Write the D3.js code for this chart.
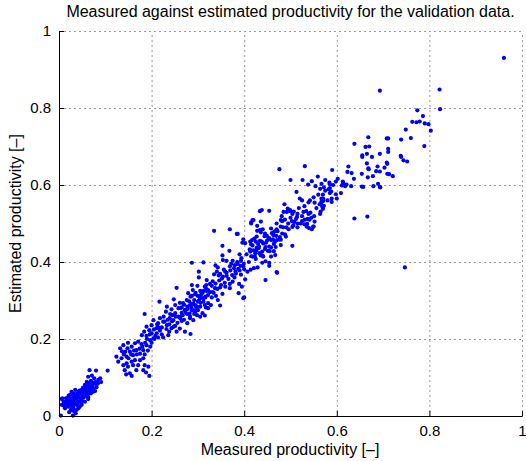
<!DOCTYPE html>
<html><head><meta charset="utf-8">
<script src="https://cdn.jsdelivr.net/npm/d3@7/dist/d3.min.js"></script>
<style>body{margin:0;background:#fff;}svg{display:block;}</style>
</head><body>
<svg id="chart" width="526" height="461"></svg>
<script>
// ---- data: [measured, estimated] pairs ----
const lowCluster = [
[0.004,0.001],[0.066,0.119],[0.080,0.118],[0.105,0.118],[0.063,0.102],[0.071,0.105],[0.076,0.098],[0.085,0.094],
[0.079,0.089],[0.091,0.088],[0.089,0.098],[0.069,0.091],[0.060,0.089],[0.056,0.081],[0.063,0.082],[0.072,0.079],
[0.081,0.081],[0.075,0.072],[0.067,0.072],[0.060,0.072],[0.052,0.074],[0.049,0.068],[0.063,0.063],[0.055,0.061],
[0.048,0.059],[0.042,0.063],[0.038,0.056],[0.035,0.068],[0.031,0.059],[0.027,0.063],[0.024,0.055],[0.031,0.050],
[0.020,0.048],[0.017,0.046],[0.026,0.042],[0.036,0.046],[0.043,0.048],[0.052,0.050],[0.060,0.055],[0.069,0.059],
[0.074,0.063],[0.045,0.037],[0.035,0.037],[0.024,0.033],[0.013,0.037],[0.019,0.030],[0.009,0.029],[0.031,0.029],
[0.040,0.027],[0.049,0.029],[0.056,0.037],[0.063,0.044],[0.042,0.020],[0.031,0.022],[0.020,0.024],[0.026,0.016],
[0.035,0.013],[0.013,0.020],[0.007,0.046],[0.006,0.029],[0.022,0.010],[0.036,0.007],[0.030,0.001],[0.027,0.017],
[0.032,0.013],[0.038,0.016],[0.006,0.044],
[0.030,0.040],[0.034,0.044],[0.038,0.041],[0.042,0.052],[0.046,0.045],[0.050,0.055],[0.053,0.048],[0.057,0.060],
[0.061,0.066],[0.064,0.058],[0.067,0.068],[0.070,0.075],[0.073,0.070],[0.066,0.077],[0.058,0.070],[0.054,0.065],
[0.047,0.060],[0.044,0.066],[0.039,0.058],[0.035,0.052],[0.028,0.035],[0.025,0.045],[0.022,0.038],[0.018,0.040],
[0.016,0.032],[0.033,0.033],[0.041,0.036],[0.048,0.041],[0.052,0.038],[0.059,0.051],[0.063,0.049],[0.068,0.062],
[0.072,0.066],[0.077,0.085],[0.071,0.088],[0.065,0.085],[0.060,0.080],[0.056,0.075],[0.051,0.070],[0.081,0.075],
[0.084,0.085],[0.078,0.065],[0.045,0.025],[0.037,0.030],[0.027,0.026],[0.012,0.025],[0.010,0.037],[0.015,0.046],
[0.021,0.053]
];
const lowerBand = [
[0.132,0.176],[0.139,0.184],[0.149,0.190],[0.157,0.180],[0.164,0.189],[0.171,0.193],[0.143,0.167],[0.153,0.167],
[0.135,0.150],[0.146,0.154],[0.160,0.158],[0.167,0.171],[0.175,0.162],[0.182,0.171],[0.146,0.137],[0.157,0.141],
[0.164,0.145],[0.139,0.132],[0.149,0.128],[0.160,0.132],[0.175,0.145],[0.182,0.150],[0.171,0.132],[0.185,0.132],
[0.142,0.119],[0.153,0.111],[0.167,0.119],[0.182,0.119],[0.193,0.128],[0.145,0.108],[0.157,0.104],[0.188,0.113],
[0.195,0.104],[0.178,0.187],[0.189,0.184],[0.197,0.180],[0.124,0.154],[0.128,0.141],
[0.217,0.297],[0.185,0.265],[0.254,0.333],[0.287,0.340],[0.279,0.319],[0.287,0.312],[0.295,0.320],[0.300,0.312],
[0.310,0.320],[0.319,0.325],[0.316,0.310],[0.305,0.306],[0.292,0.301],[0.281,0.298],[0.248,0.303],[0.261,0.294],
[0.270,0.289],[0.251,0.288],[0.258,0.280],[0.243,0.277],[0.233,0.284],[0.231,0.271],[0.240,0.265],[0.251,0.267],
[0.265,0.268],[0.272,0.275],[0.277,0.284],[0.287,0.291],[0.296,0.284],[0.290,0.275],[0.300,0.275],[0.306,0.294],
[0.315,0.288],[0.322,0.280],[0.310,0.267],[0.298,0.262],[0.283,0.258],[0.290,0.249],[0.277,0.241],[0.265,0.247],
[0.258,0.258],[0.247,0.249],[0.239,0.254],[0.284,0.213],[0.261,0.227],[0.272,0.219],[0.218,0.254],[0.225,0.245],
[0.214,0.241],[0.204,0.249],[0.200,0.236],[0.222,0.230],[0.211,0.228],[0.233,0.236],[0.243,0.228],[0.251,0.234],
[0.254,0.219],[0.189,0.232],[0.195,0.223],[0.184,0.219],[0.179,0.210],[0.189,0.208],[0.200,0.215],[0.211,0.215],
[0.204,0.202],[0.197,0.197],[0.214,0.204],[0.225,0.204],[0.236,0.210],[0.238,0.219],
[0.205,0.225],[0.212,0.238],[0.218,0.222],[0.222,0.212],[0.228,0.245],[0.232,0.226],[0.238,0.238],[0.244,0.246],
[0.248,0.232],[0.252,0.258],[0.256,0.242],[0.262,0.254],[0.266,0.262],[0.270,0.250],[0.274,0.268],[0.278,0.278],
[0.282,0.266],[0.286,0.282],[0.290,0.292],[0.294,0.270],[0.298,0.284],[0.262,0.280],[0.245,0.262],[0.235,0.250],
[0.226,0.258],[0.215,0.230],[0.208,0.208],[0.196,0.212],[0.190,0.200],[0.186,0.190],[0.180,0.180],[0.174,0.175],
[0.168,0.160],[0.162,0.170],[0.156,0.160],[0.150,0.150],[0.148,0.176],[0.140,0.160],[0.136,0.168],[0.192,0.170],
[0.185,0.160],[0.200,0.190],[0.206,0.200]
];
const middleBand = [
[0.335,0.481],[0.369,0.485],[0.415,0.503],[0.418,0.509],[0.428,0.494],[0.386,0.473],[0.398,0.459],[0.396,0.450],
[0.353,0.442],[0.368,0.429],[0.402,0.449],[0.413,0.453],[0.418,0.443],[0.412,0.433],[0.428,0.481],[0.436,0.477],
[0.422,0.461],[0.430,0.447],[0.438,0.453],[0.445,0.474],[0.449,0.468],[0.452,0.459],[0.463,0.472],[0.469,0.468],
[0.462,0.459],[0.471,0.457],[0.426,0.430],[0.431,0.436],[0.433,0.423],[0.445,0.434],[0.451,0.429],[0.454,0.440],
[0.468,0.439],[0.413,0.427],[0.423,0.414],[0.436,0.417],[0.446,0.402],[0.454,0.398],[0.458,0.414],[0.439,0.398],
[0.454,0.390],[0.470,0.374],[0.446,0.353],[0.287,0.398],[0.312,0.399],[0.302,0.375],[0.302,0.360],[0.353,0.417],
[0.362,0.403],[0.354,0.405],[0.375,0.403],[0.369,0.389],[0.380,0.392],[0.385,0.400],[0.393,0.403],[0.399,0.395],
[0.392,0.390],[0.387,0.382],[0.381,0.375],[0.338,0.391],[0.343,0.386],[0.341,0.375],[0.335,0.368],[0.348,0.369],
[0.359,0.375],[0.362,0.364],[0.352,0.357],[0.400,0.381],[0.407,0.375],[0.414,0.380],[0.421,0.384],[0.429,0.386],
[0.379,0.360],[0.375,0.349],[0.369,0.343],[0.389,0.343],[0.393,0.367],[0.402,0.355],[0.395,0.336],[0.348,0.334],
[0.337,0.332],[0.332,0.322],[0.359,0.336],[0.353,0.317],[0.319,0.353],[0.326,0.343],[0.315,0.336],[0.312,0.325],
[0.322,0.327],[0.330,0.308],[0.339,0.312],[0.343,0.301],[0.388,0.319],[0.398,0.306],[0.348,0.287],[0.369,0.332],
[0.299,0.338],[0.305,0.325],[0.294,0.316],[0.289,0.327],[0.284,0.310],[0.306,0.312],[0.316,0.308],[0.312,0.297],
[0.300,0.297],[0.294,0.288],[0.305,0.284],[0.317,0.282],[0.322,0.293],[0.328,0.288],[0.276,0.301],[0.268,0.293],
[0.283,0.288],[0.272,0.275],[0.265,0.282],[0.287,0.274],[0.277,0.265],[0.267,0.262],[0.292,0.265],[0.297,0.275],
[0.305,0.258],[0.283,0.254],[0.315,0.261],[0.384,0.473],[0.471,0.372],[0.400,0.308],
[0.302,0.300],[0.308,0.318],[0.312,0.306],[0.318,0.330],[0.322,0.314],[0.326,0.322],[0.330,0.338],[0.334,0.320],
[0.338,0.344],[0.342,0.330],[0.346,0.352],[0.350,0.340],[0.354,0.362],[0.358,0.346],[0.362,0.372],[0.366,0.356],
[0.370,0.378],[0.374,0.366],[0.378,0.384],[0.382,0.370],[0.386,0.395],[0.390,0.378],[0.394,0.410],[0.398,0.388],
[0.345,0.365],[0.332,0.350],[0.318,0.340],[0.372,0.395],[0.356,0.380],[0.390,0.420],[0.405,0.420],[0.410,0.400],
[0.415,0.415],[0.420,0.430],[0.425,0.408],[0.432,0.440],[0.440,0.416],[0.447,0.450],[0.455,0.428],[0.460,0.475],
[0.466,0.452],[0.472,0.480],[0.477,0.465],[0.484,0.490],[0.488,0.472],[0.495,0.500],[0.500,0.515],[0.506,0.495],
[0.512,0.512],[0.518,0.540],[0.522,0.500],[0.485,0.530],[0.470,0.500]
];
const upperBand = [
[0.531,0.649],[0.476,0.641],[0.500,0.613],[0.526,0.613],[0.559,0.622],[0.546,0.610],[0.538,0.601],[0.554,0.597],
[0.585,0.602],[0.585,0.592],[0.588,0.583],[0.513,0.582],[0.570,0.575],[0.550,0.568],[0.571,0.564],[0.567,0.557],
[0.563,0.550],[0.569,0.544],[0.570,0.538],[0.565,0.531],[0.564,0.525],[0.539,0.555],[0.552,0.554],[0.520,0.565],
[0.600,0.565],[0.487,0.550],[0.494,0.539],[0.499,0.535],[0.504,0.525],[0.507,0.531],[0.515,0.525],[0.514,0.517],
[0.525,0.519],[0.528,0.530],[0.534,0.532],[0.539,0.525],[0.543,0.528],[0.531,0.510],[0.537,0.512],[0.541,0.510],
[0.551,0.519],[0.552,0.505],[0.549,0.492],[0.434,0.532],[0.438,0.535],[0.454,0.533],[0.420,0.509],[0.436,0.505],
[0.481,0.519],[0.488,0.510],[0.479,0.509],[0.492,0.530],[0.499,0.532],[0.415,0.500],[0.482,0.506],[0.479,0.492],
[0.503,0.506],[0.508,0.504],[0.515,0.500],[0.515,0.490],[0.525,0.506],[0.530,0.498],[0.536,0.499],[0.504,0.491],
[0.496,0.485],[0.491,0.490],[0.535,0.492],[0.540,0.488],[0.546,0.485],[0.550,0.492],[0.440,0.485],[0.434,0.483],
[0.458,0.487],[0.470,0.485],[0.465,0.479],[0.463,0.470],[0.454,0.462],[0.444,0.467],[0.427,0.466],[0.482,0.474],
[0.490,0.466],[0.476,0.459],[0.417,0.457],[0.425,0.453],[0.415,0.446],[0.434,0.455],[0.441,0.448],[0.446,0.439],
[0.449,0.455],[0.458,0.457],[0.464,0.447],[0.458,0.438],[0.479,0.458],[0.479,0.444],[0.504,0.442],[0.427,0.437],
[0.424,0.423],[0.413,0.431],[0.418,0.414],[0.439,0.427],[0.441,0.414],[0.464,0.428],[0.467,0.418],
[0.530,0.545],[0.542,0.560],[0.556,0.540],[0.560,0.575],[0.575,0.585],[0.580,0.560],[0.592,0.600],[0.545,0.515],
[0.525,0.560]
];
const topBand = [
[0.774,0.794],[0.786,0.779],[0.763,0.764],[0.772,0.763],[0.779,0.765],[0.790,0.760],[0.798,0.758],[0.803,0.741],
[0.749,0.744],[0.708,0.721],[0.711,0.721],[0.739,0.718],[0.760,0.722],[0.711,0.694],[0.711,0.686],[0.789,0.701],
[0.693,0.681],[0.738,0.676],[0.739,0.673],[0.744,0.664],[0.752,0.661],[0.708,0.658],[0.709,0.655],[0.703,0.645],
[0.693,0.635],[0.709,0.629],[0.713,0.628],[0.721,0.623],[0.693,0.595],[0.668,0.724],[0.638,0.707],[0.662,0.699],
[0.670,0.700],[0.665,0.681],[0.676,0.673],[0.655,0.677],[0.655,0.673],[0.665,0.656],[0.625,0.648],[0.688,0.648],
[0.668,0.643],[0.669,0.641],[0.685,0.636],[0.590,0.639],[0.623,0.634],[0.632,0.631],[0.654,0.629],[0.598,0.609],
[0.584,0.606],[0.667,0.620],[0.678,0.623],[0.637,0.616],[0.567,0.603],[0.575,0.613],[0.602,0.616],[0.613,0.609],
[0.614,0.604],[0.611,0.599],[0.618,0.597],[0.621,0.601],[0.631,0.597],[0.654,0.596],[0.657,0.595],[0.679,0.597],
[0.689,0.603],[0.694,0.594],[0.564,0.590],[0.572,0.594],[0.582,0.589],[0.585,0.579],[0.598,0.576],[0.609,0.579],
[0.589,0.565],[0.567,0.565],[0.571,0.559],[0.566,0.552],[0.569,0.544],[0.572,0.546],[0.589,0.556],[0.666,0.518],
[0.638,0.513]
];
const outliers = [
[0.961,0.930],[0.822,0.848],[0.823,0.797],[0.747,0.386],[0.693,0.845]
];
const tickValues = [0, 0.2, 0.4, 0.6, 0.8, 1];
const tickLabels = ["0", "0.2", "0.4", "0.6", "0.8", "1"];
const titleText = "Measured against estimated productivity for the validation data.";
const xLabel = "Measured productivity [\u2013]";
const yLabel = "Estimated productivity [\u2013]";

// ---- drawing ----
const W = 526, H = 461;
const plot = {left: 59, right: 522, top: 31, bottom: 416};
const FONT = "'Liberation Sans', Arial, Helvetica, sans-serif";
const svg = d3.select("#chart");
svg.append("rect").attr("width", W).attr("height", H).attr("fill", "#fff");

const x = d3.scaleLinear().domain([0, 1]).range([plot.left, plot.right]);
const y = d3.scaleLinear().domain([0, 1]).range([plot.bottom, plot.top]);

// grid (dotted)
const grid = svg.append("g").attr("stroke", "#333").attr("stroke-width", 1)
  .attr("stroke-dasharray", "1,4").attr("fill", "none");
tickValues.forEach(v => {
  if (v > 0) grid.append("line").attr("x1", x(v)).attr("x2", x(v)).attr("y1", plot.bottom).attr("y2", plot.top);
  if (v > 0) grid.append("line").attr("y1", y(v)).attr("y2", y(v)).attr("x1", plot.left).attr("x2", plot.right);
});
grid.selectAll("line").attr("transform", "translate(0.5,0.5)");

// points
const allPoints = [].concat(lowCluster, lowerBand, middleBand, upperBand, topBand, outliers);
svg.append("g").selectAll("circle").data(allPoints).join("circle")
  .attr("cx", d => x(d[0])).attr("cy", d => y(d[1])).attr("r", 2.1).attr("fill", "#0000ff");

// axes
const fmt = (d, i) => tickLabels[i];
const xAxis = svg.append("g").attr("transform", `translate(0,${plot.bottom})`)
  .call(d3.axisBottom(x).tickValues(tickValues).tickFormat(fmt).tickSizeInner(-5).tickSizeOuter(0).tickPadding(9));
const yAxis = svg.append("g").attr("transform", `translate(${plot.left},0)`)
  .call(d3.axisLeft(y).tickValues(tickValues).tickFormat(fmt).tickSizeInner(-5).tickSizeOuter(0).tickPadding(8));
[xAxis, yAxis].forEach(g => {
  g.select(".domain").attr("stroke", "#000").attr("stroke-width", 1);
  g.selectAll(".tick line").attr("stroke", "#000");
  g.selectAll("text").attr("font-family", FONT).attr("font-size", 15).attr("fill", "#000");
});

// title and labels
svg.append("text").attr("x", 290.5).attr("y", 17).attr("text-anchor", "middle")
  .attr("font-family", FONT).attr("font-size", 16).text(titleText);
svg.append("text").attr("x", 290).attr("y", 455).attr("text-anchor", "middle")
  .attr("font-family", FONT).attr("font-size", 16).text(xLabel);
svg.append("text").attr("transform", `translate(21,${(plot.top + plot.bottom) / 2}) rotate(-90)`)
  .attr("text-anchor", "middle").attr("font-family", FONT).attr("font-size", 16).text(yLabel);
</script>
</body></html>
